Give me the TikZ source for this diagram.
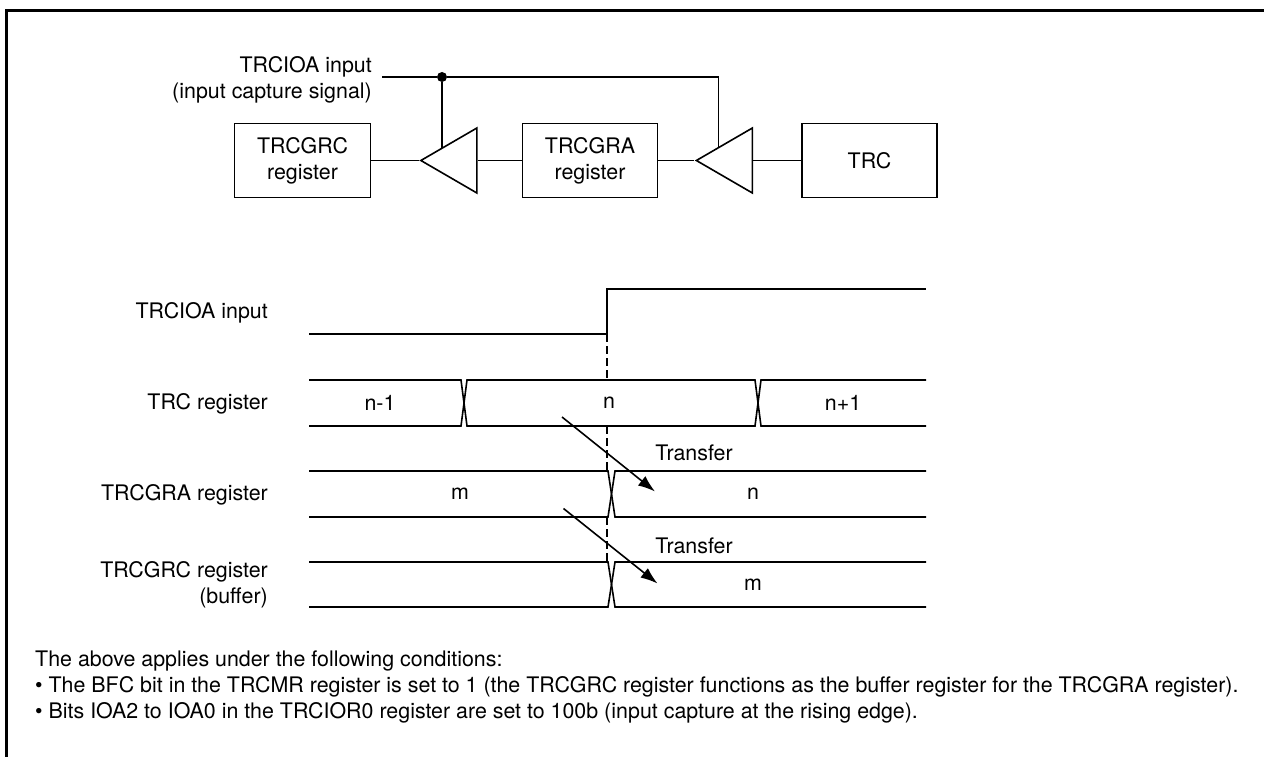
\documentclass[tikz,border=0pt]{standalone}
\usepackage{fontspec}
\setmainfont{TeX Gyre Heros}
\usetikzlibrary{arrows.meta,positioning,shapes.geometric}

\begin{document}
\begin{tikzpicture}[
  x=1pt,y=-1pt,
  >={Latex[length=17pt,width=12pt]},
  font=\fontsize{21.4pt}{26pt}\selectfont,
  wire/.style={line width=1.6pt},
  regbox/.style={draw,line width=1.6pt,align=center,minimum height=74pt,inner sep=0pt,fill=white},
  amp/.style={draw,line width=1.6pt,isosceles triangle,isosceles triangle stretches,
    shape border rotate=180,minimum width=65pt,minimum height=56pt,inner sep=0pt,fill=white},
  lbl/.style={align=center,inner sep=0pt},
  side/.style={lbl,align=right,anchor=east},
  frame/.style={line width=3pt},
  edgemark/.style={line width=2pt,dash pattern=on 8pt off 4pt},
  arr/.style={->,line width=1.6pt}
]
\useasboundingbox (0,0) rectangle (1264,757);
% page frame
\draw[frame] (6.5,757) -- (6.5,10.5) -- (1264,10.5);

% block diagram
\node[regbox,minimum width=136pt] (grc) at (302.5,160.5) {TRCGRC\\register};
\node[amp,right=47.5pt of grc] (ampc) {};
\node[regbox,minimum width=135pt,right=44pt of ampc] (gra) {TRCGRA\\register};
\node[amp,right=36pt of gra] (ampa) {};
\node[regbox,minimum width=135pt,right=48pt of ampa] (trc) {TRC};

\node[side] (capt) at (372,79.5) {TRCIOA input\\(input capture signal)};
\coordinate (capin) at (382,77);
\node[circle,fill=black,inner sep=0pt,minimum size=10pt] (dot) at (442,77) {};
\coordinate (ctlc) at (442,148);
\coordinate (ctla) at (718.5,148);

\draw[wire] (capin) -- (dot);
\draw[wire] (dot) -- (ctlc);
\draw[wire] (dot) -- (dot -| ctla) -- (ctla);
\draw[wire] (grc) -- (ampc.apex);
\draw[wire] (ampc.lower side) -- (gra);
\draw[wire] (gra) -- (ampa.apex);
\draw[wire] (ampa.lower side) -- (trc);

% timing labels
\node[side] (lio) at (268,312.5) {TRCIOA input};
\node[side] (ltrc) at (268,403.5) {TRC register};
\node[side] (lgra) at (268,494.5) {TRCGRA register};
\node[side] (lgrc) at (268,585) {TRCGRC register\\(buffer)};

% TRCIOA input
\draw[wire] (309,334) -- (607,334) -- (607,289) -- (926,289);

% TRC register
\draw[wire] (309,380) -- (461,380) -- (467,426) -- (755,426) -- (761,380) -- (926,380);
\draw[wire] (309,426) -- (461,426) -- (467,380) -- (755,380) -- (761,426) -- (926,426);

% TRCGRA register
\draw[wire] (309,471) -- (608,471) -- (615,517) -- (926,517);
\draw[wire] (309,517) -- (608,517) -- (615,471) -- (926,471);

% TRCGRC register
\draw[wire] (309,562) -- (608,562) -- (615,607) -- (926,607);
\draw[wire] (309,607) -- (608,607) -- (615,562) -- (926,562);

% edge marker
\draw[edgemark] (607,334) -- (607,380);
\draw[edgemark] (607,426) -- (607,471);
\draw[edgemark] (607,517) -- (607,562);

% values
\node[lbl] (v1) at (380,403) {n-1};
\node[lbl] (v2) at (609,403) {n};
\node[lbl] (v3) at (843,403) {n+1};
\node[lbl] (v4) at (460,494) {m};
\node[lbl] (v5) at (753,494) {n};
\node[lbl] (v6) at (753,585) {m};

% transfers
\coordinate (ta1) at (562,417);
\coordinate (ta2) at (655,491.5);
\coordinate (tb1) at (563.5,508.5);
\coordinate (tb2) at (657.5,583.5);
\draw[arr] (ta1) -- (ta2);
\draw[arr] (tb1) -- (tb2);
\node[lbl] (tl1) at (694,453) {Transfer};
\node[lbl] (tl2) at (694,546) {Transfer};

% conditions
\node[lbl,align=left,anchor=north west] (note) at (35,651) {The above applies under the following conditions:\\
• The BFC bit in the TRCMR register is set to 1 (the TRCGRC register functions as the buffer register for the TRCGRA register).\\
• Bits IOA2 to IOA0 in the TRCIOR0 register are set to 100b (input capture at the rising edge).};
\end{tikzpicture}
\end{document}
